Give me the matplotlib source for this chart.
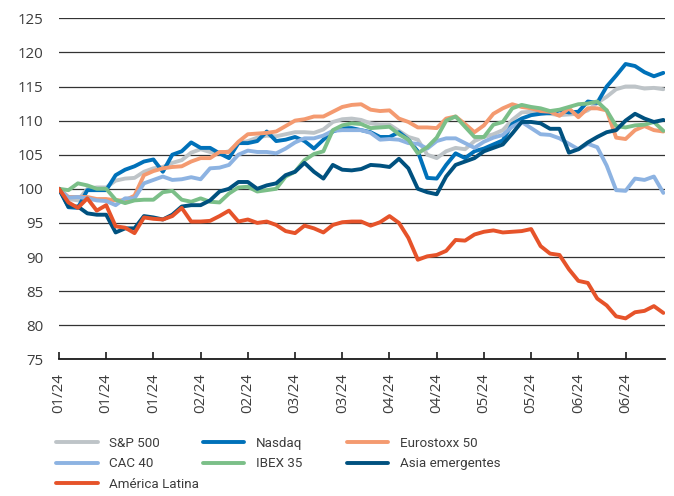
import matplotlib

matplotlib.use("Agg")
import matplotlib.pyplot as plt
import numpy as np

# Index levels rebased to 100, sampled every second trading day (Jan-Jun 2024)
SP500 = [100, 98.5, 98.3, 100.0, 100.2, 100.2, 101.2, 101.5, 101.6, 102.5,
         103.0, 103.2, 103.8, 104.2, 105.3, 105.8, 105.4, 105.2, 105.5, 106.7,
         107.0, 107.5, 107.8, 107.7, 108.0, 108.3, 108.3, 108.2, 108.7, 109.8,
         110.2, 110.3, 110.1, 109.6, 109.4, 109.4, 108.5, 107.6, 107.2, 105.0,
         104.5, 105.5, 106.0, 105.8, 107.0, 107.6, 108.0, 108.6, 110.1, 111.2,
         111.3, 111.3, 111.0, 110.8, 110.9, 111.0, 111.5, 112.6, 113.5, 114.6,
         115.0, 115.0, 114.7, 114.8, 114.6]
NASDAQ = [100, 97.3, 97.2, 99.8, 99.8, 99.8, 102.0, 102.8, 103.3, 104.0,
          104.3, 102.5, 105.0, 105.5, 106.8, 106.0, 106.0, 105.2, 104.5, 106.7,
          106.7, 107.0, 108.4, 107.0, 107.2, 107.6, 107.0, 105.9, 107.2, 108.4,
          108.9, 108.9, 108.6, 108.3, 107.6, 107.6, 108.3, 107.2, 105.5, 101.6,
          101.5, 103.5, 105.2, 104.5, 105.5, 105.9, 106.5, 107.1, 109.5, 110.3,
          110.8, 111.0, 111.1, 111.5, 111.2, 111.3, 112.8, 112.6, 115.0, 116.6,
          118.3, 118.0, 117.1, 116.5, 117.0]
EUROSTOXX = [100, 98.8, 98.8, 98.8, 98.5, 98.5, 98.3, 98.3, 99.0, 102.0,
             102.6, 103.0, 103.2, 103.3, 104.0, 104.5, 104.5, 105.4, 105.4, 106.9,
             108.0, 108.1, 108.2, 108.4, 109.2, 110.0, 110.2, 110.6, 110.6, 111.3,
             112.0, 112.3, 112.4, 111.6, 111.4, 111.5, 110.3, 109.8, 109.0, 109.0,
             108.9, 110.3, 110.6, 109.5, 108.3, 109.3, 111.0, 111.8, 112.4, 112.0,
             111.8, 111.4, 111.3, 110.7, 111.8, 110.5, 111.8, 111.8, 111.5, 107.5,
             107.3, 108.6, 109.2, 108.6, 108.4]
CAC40 = [100, 98.7, 98.8, 98.6, 98.3, 98.2, 97.6, 98.6, 98.6, 100.8,
         101.3, 101.8, 101.3, 101.4, 101.7, 101.4, 103.0, 103.1, 103.5, 105.0,
         105.6, 105.4, 105.4, 105.2, 105.9, 106.8, 107.4, 107.4, 107.8, 108.5,
         108.6, 108.6, 108.6, 108.2, 107.2, 107.3, 107.2, 106.7, 106.6, 105.9,
         107.0, 107.4, 107.4, 106.7, 106.0, 106.9, 107.5, 107.9, 109.1, 109.8,
         108.9, 108.0, 107.9, 107.4, 106.6, 105.8, 106.6, 106.1, 103.4, 99.8,
         99.7, 101.5, 101.3, 101.8, 99.4]
IBEX35 = [100, 99.8, 100.8, 100.5, 100.0, 100.0, 98.4, 97.9, 98.3, 98.4,
          98.4, 99.5, 99.7, 98.4, 98.1, 98.6, 98.1, 98.0, 99.3, 100.2,
          100.3, 99.6, 99.8, 100.0, 101.8, 102.5, 104.2, 105.1, 105.5, 108.6,
          109.3, 109.6, 109.5, 108.9, 109.0, 109.1, 108.0, 107.2, 105.2, 106.1,
          107.5, 110.0, 110.6, 109.1, 107.6, 107.6, 109.4, 109.8, 111.8, 112.3,
          112.0, 111.8, 111.4, 111.6, 112.0, 112.4, 112.5, 112.8, 111.5, 109.2,
          109.0, 109.3, 109.4, 109.8, 108.5]
ASIA_EM = [100, 97.4, 97.4, 96.4, 96.2, 96.2, 93.6, 94.2, 94.2, 96.0,
           95.8, 95.5, 96.2, 97.4, 97.6, 97.6, 98.3, 99.6, 100.0, 101.0,
           101.0, 100.0, 100.5, 100.8, 102.0, 102.5, 103.8, 102.5, 101.5, 103.5,
           102.8, 102.7, 102.9, 103.5, 103.4, 103.2, 104.4, 103.0, 100.0, 99.5,
           99.2, 101.8, 103.5, 104.0, 104.5, 105.5, 106.0, 106.5, 108.1, 109.8,
           109.8, 109.6, 108.8, 108.8, 105.3, 105.8, 106.8, 107.6, 108.3, 108.6,
           110.0, 111.0, 110.3, 109.8, 110.1]
LATAM = [100, 98.0, 97.2, 98.6, 96.8, 97.6, 94.5, 94.3, 93.5, 95.8,
         95.6, 95.5, 96.0, 97.2, 95.2, 95.2, 95.3, 96.0, 96.8, 95.2,
         95.5, 95.0, 95.2, 94.7, 93.8, 93.5, 94.6, 94.2, 93.6, 94.7,
         95.1, 95.2, 95.2, 94.6, 95.1, 96.0, 95.0, 92.8, 89.6, 90.1,
         90.3, 90.9, 92.5, 92.4, 93.3, 93.7, 93.9, 93.6, 93.7, 93.8,
         94.1, 91.6, 90.5, 90.3, 88.2, 86.5, 86.2, 83.9, 82.9, 81.3,
         81.0, 81.9, 82.1, 82.8, 81.8]

SERIES = [
    ("S&P 500", SP500, "#bec4c8"),
    ("Nasdaq", NASDAQ, "#0071b9"),
    ("Eurostoxx 50", EUROSTOXX, "#f49a70"),
    ("CAC 40", CAC40, "#8db3e2"),
    ("IBEX 35", IBEX35, "#7bbf88"),
    ("Asia emergentes", ASIA_EM, "#00517f"),
    ("América Latina", LATAM, "#e6532a"),
]
TICK_POS = list(range(0, 61, 5))
TICK_LABELS = ["01/24", "01/24", "01/24", "02/24", "02/24", "03/24", "03/24",
               "04/24", "04/24", "05/24", "05/24", "06/24", "06/24"]

TEXT = "#3c3c3c"
plt.rcParams["font.family"] = ["Open Sans", "DejaVu Sans"]

fig = plt.figure(figsize=(6.74, 4.96), dpi=100)
ax = fig.add_axes([0.0875, 0.2756, 0.8995, 0.6875])

lines = {}
for name, values, color in SERIES:
    x = np.arange(len(values))
    (ln,) = ax.plot(x, values, color=color, lw=2.8, solid_joinstyle="round",
                    solid_capstyle="round", label=name)
    lines[name] = ln

ax.set_ylim(75, 125)
ax.set_xlim(0, 64.2)
ax.set_yticks(range(75, 126, 5))
ax.yaxis.grid(True, color="#333333", lw=0.9)
ax.set_axisbelow(True)
ax.set_xticks(TICK_POS)
ax.set_xticklabels(TICK_LABELS, rotation=90)

for side in ("left", "right", "top"):
    ax.spines[side].set_visible(False)
ax.spines["bottom"].set_color("#1a1a1a")
ax.spines["bottom"].set_linewidth(1.3)
ax.tick_params(axis="y", length=0, pad=11, labelsize=10.8, labelcolor=TEXT)
ax.tick_params(axis="x", direction="in", length=5, width=1.2, color="#1a1a1a",
               pad=10, labelsize=10.8, labelcolor=TEXT)

# legend laid out as three fixed columns under the plot
columns = [
    (0.0835, ["S&P 500", "CAC 40", "América Latina"]),
    (0.3010, ["Nasdaq", "IBEX 35"]),
    (0.5150, ["Eurostoxx 50", "Asia emergentes"]),
]
for x0, names in columns:
    fig.legend([lines[n] for n in names], names, loc="upper left",
               bbox_to_anchor=(x0, 1 - 437 / 496), frameon=False,
               prop={"family": ["Roboto", "DejaVu Sans"], "size": 9.6},
               handlelength=3.1, handletextpad=0.85, labelspacing=0.55,
               labelcolor=TEXT, borderaxespad=0, borderpad=0)

fig.savefig("out.png", dpi=100)
